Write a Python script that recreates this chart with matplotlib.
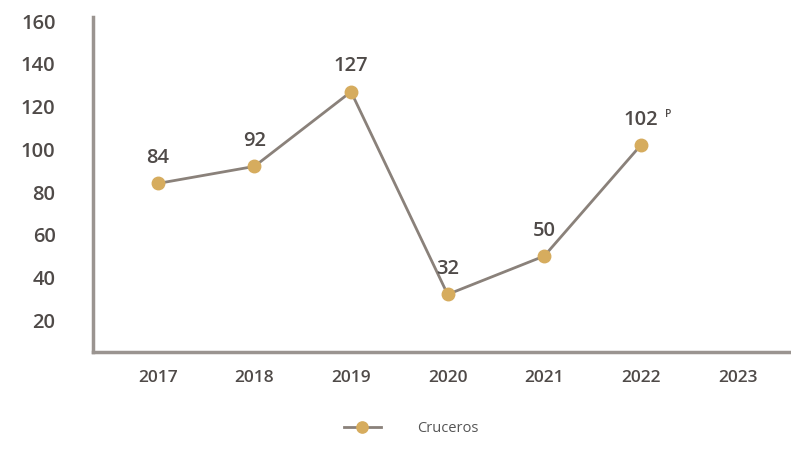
import matplotlib.pyplot as plt

years = [2017, 2018, 2019, 2020, 2021, 2022]
all_years = [2017, 2018, 2019, 2020, 2021, 2022, 2023]
cruceros = [84, 92, 127, 32, 50, 102]
y_ticks = [20, 40, 60, 80, 100, 120, 140, 160]

plt.rcParams['font.family'] = ['Open Sans', 'DejaVu Sans']

fig = plt.figure(figsize=(7.91, 4.49), dpi=100)
ax = fig.add_axes([0.1176, 0.216, 0.882, 0.746])

line_col = '#8a817a'
gold = '#d6ac5e'
txt_col = '#4f4a48'

ax.plot(years, cruceros, color=line_col, lw=2.0, marker='o', markersize=9,
        markerfacecolor=gold, markeredgecolor=gold, label='Cruceros', zorder=3)

# value labels above each point
for x, v in zip(years, cruceros):
    ax.annotate(str(v), (x, v), xytext=(0, 11), textcoords='offset points',
                ha='center', va='bottom', fontsize=14.5, fontweight='semibold', color=txt_col)
ax.annotate('P', (years[-1], cruceros[-1]), xytext=(20, 18), textcoords='offset points',
            ha='center', va='bottom', fontsize=7.5, fontweight='semibold', color=txt_col)

ax.set_xlim(2016.33, 2023.55)
ax.set_ylim(5, 162)
ax.set_xticks(all_years)
ax.set_yticks(y_ticks)
ax.tick_params(axis='y', length=0, pad=27, labelsize=14.5, labelcolor=txt_col)
ax.tick_params(axis='x', length=0, pad=13, labelsize=12.5, labelcolor=txt_col)
for lab in ax.get_xticklabels() + ax.get_yticklabels():
    lab.set_fontweight('semibold')

for s in ['top', 'right']:
    ax.spines[s].set_visible(False)
for s in ['left', 'bottom']:
    ax.spines[s].set_color('#9a9490')
    ax.spines[s].set_linewidth(2.5)

fig.legend(loc='lower center', bbox_to_anchor=(0.52, 0.0), frameon=False,
           handlelength=2.5, handletextpad=2.5, fontsize=10.5, labelcolor='#555555',
           markerscale=0.9)

fig.savefig('out.png', dpi=100)
